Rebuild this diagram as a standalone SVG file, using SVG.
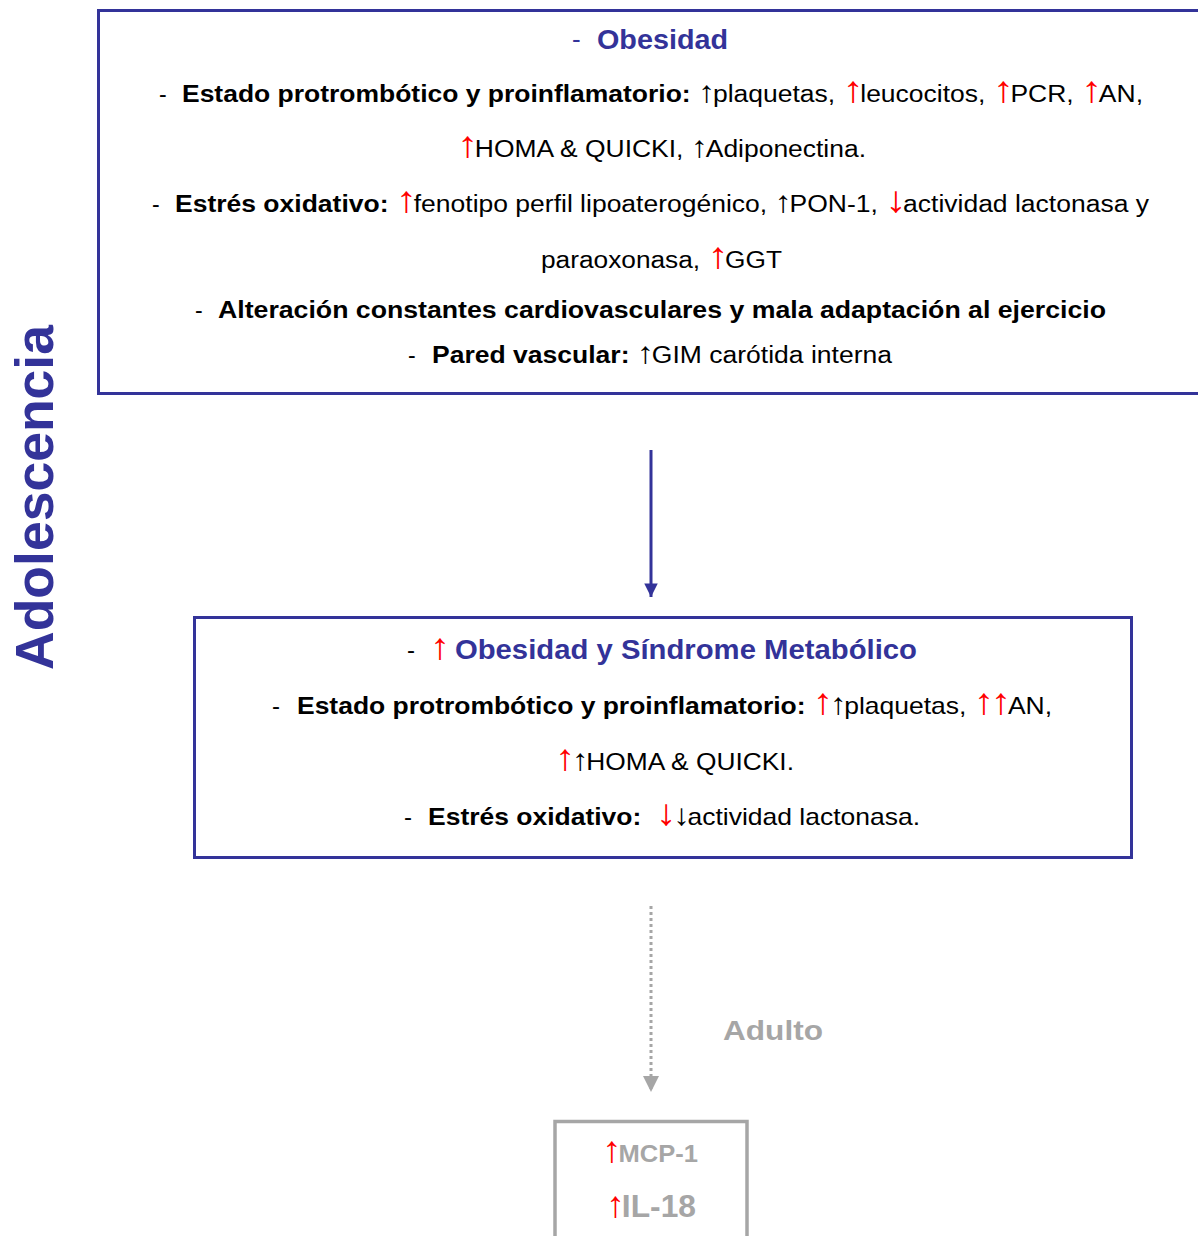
<svg xmlns="http://www.w3.org/2000/svg" width="1198" height="1236" viewBox="0 0 1198 1236">
<style>
text{font-family:"Liberation Sans",Arial,sans-serif;}
.b{font-weight:bold;}
.blue{fill:#333399;}
.k{fill:#000;}
.r{fill:#ff0000;font-weight:normal;font-size:37px;letter-spacing:-3px;}
.ka{font-weight:normal;font-size:30px;letter-spacing:-2px;}
.g{fill:#a6a6a6;}
.t1{font-size:23px;}
.t2{font-size:24px;}
.box{fill:none;stroke:#333399;stroke-width:3;}
</style>
<defs>
<marker id="ah" viewBox="0 0 10 10" refX="10" refY="5" markerWidth="5" markerHeight="4.5" markerUnits="strokeWidth" orient="auto">
<path d="M0,0 L10,5 L0,10 z" fill="#333399"/>
</marker>
<marker id="ahg" viewBox="0 0 10 10" refX="10" refY="5" markerWidth="5.4" markerHeight="5.4" markerUnits="strokeWidth" orient="auto">
<path d="M0,0 L10,5 L0,10 z" fill="#a6a6a6"/>
</marker>
</defs>

<text class="b blue" font-size="53" transform="translate(53,497.5) rotate(-90)" text-anchor="middle" textLength="345" lengthAdjust="spacingAndGlyphs">Adolescencia</text>

<g id="node-adolescencia">
<rect class="box" x="98.5" y="10.5" width="1110" height="383"/>
<text class="blue" font-size="26" x="572" y="48">-</text>
<text class="b blue" font-size="27" x="597" y="49" textLength="131" lengthAdjust="spacingAndGlyphs">Obesidad</text>

<text class="t1 k" x="159" y="102">-</text>
<text class="t1 k" x="182" y="102" textLength="961" lengthAdjust="spacingAndGlyphs"><tspan class="b">Estado protrombótico y proinflamatorio:</tspan> <tspan class="ka">↑</tspan>plaquetas, <tspan class="r">↑</tspan>leucocitos, <tspan class="r">↑</tspan>PCR, <tspan class="r">↑</tspan>AN,</text>

<text class="t1 k" x="457" y="157" textLength="409" lengthAdjust="spacingAndGlyphs"><tspan class="r">↑</tspan>HOMA &amp; QUICKI, <tspan class="ka">↑</tspan>Adiponectina.</text>

<text class="t1 k" x="152" y="212">-</text>
<text class="t1 k" x="175" y="212" textLength="974" lengthAdjust="spacingAndGlyphs"><tspan class="b">Estrés oxidativo:</tspan> <tspan class="r">↑</tspan>fenotipo perfil lipoaterogénico, <tspan class="ka">↑</tspan>PON-1, <tspan class="r">↓</tspan>actividad lactonasa y</text>

<text class="t1 k" x="541" y="268" textLength="241" lengthAdjust="spacingAndGlyphs">paraoxonasa, <tspan class="r">↑</tspan>GGT</text>

<text class="t1 k" x="195" y="318">-</text>
<text class="t1 k b" x="218" y="318" textLength="888" lengthAdjust="spacingAndGlyphs">Alteración constantes cardiovasculares y mala adaptación al ejercicio</text>

<text class="t1 k" x="408" y="363">-</text>
<text class="t1 k" x="432" y="363" textLength="460" lengthAdjust="spacingAndGlyphs"><tspan class="b">Pared vascular:</tspan> <tspan class="ka">↑</tspan>GIM carótida interna</text>
</g>

<g id="node-sindrome">
<rect class="box" x="194.5" y="617.5" width="937" height="240"/>
<text class="t2 k" x="407" y="658">-</text>
<text class="b blue" font-size="27" x="430" y="659" textLength="487" lengthAdjust="spacingAndGlyphs"><tspan class="r">↑</tspan>  Obesidad y Síndrome Metabólico</text>

<text class="t2 k" x="272" y="714">-</text>
<text class="t2 k" x="297" y="714" textLength="755" lengthAdjust="spacingAndGlyphs"><tspan class="b">Estado protrombótico y proinflamatorio:</tspan> <tspan class="r">↑</tspan><tspan class="ka">↑</tspan>plaquetas, <tspan class="r">↑↑</tspan>AN,</text>

<text class="t2 k" x="555" y="770" textLength="239" lengthAdjust="spacingAndGlyphs"><tspan class="r">↑</tspan><tspan class="ka">↑</tspan>HOMA &amp; QUICKI.</text>

<text class="t2 k" x="404" y="825">-</text>
<text class="t2 k" x="428" y="825" textLength="492" lengthAdjust="spacingAndGlyphs"><tspan class="b">Estrés oxidativo:</tspan>&#160; <tspan class="r">↓</tspan><tspan class="ka">↓</tspan>actividad lactonasa.</text>
</g>

<g id="node-adulto">
<rect x="555" y="1121.5" width="192" height="140" fill="none" stroke="#a6a6a6" stroke-width="3.5"/>
<text class="b g" font-size="24" x="602" y="1162" textLength="96" lengthAdjust="spacingAndGlyphs"><tspan class="r">↑</tspan>MCP-1</text>
<text class="b g" font-size="31" x="606" y="1217" textLength="90" lengthAdjust="spacingAndGlyphs"><tspan class="r">↑</tspan>IL-18</text>
</g>

<text class="b g" font-size="28" x="723" y="1040" textLength="100" lengthAdjust="spacingAndGlyphs">Adulto</text>

<g id="connectors">
<line x1="651" y1="450" x2="651" y2="597" stroke="#333399" stroke-width="3" marker-end="url(#ah)"/>
<line x1="651" y1="906" x2="651" y2="1092" stroke="#a6a6a6" stroke-width="3" stroke-dasharray="3 3" marker-end="url(#ahg)"/>
</g>
</svg>
